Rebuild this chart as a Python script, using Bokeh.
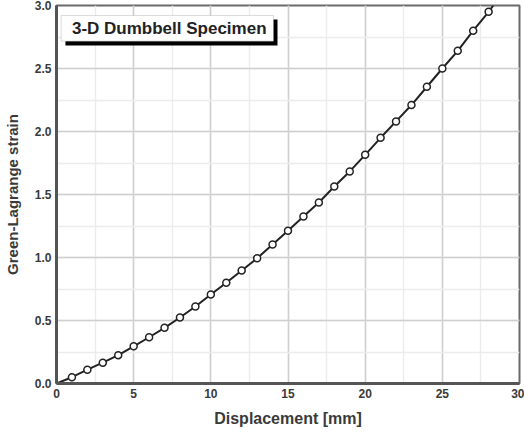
from bokeh.plotting import figure
from bokeh.models import (Range1d, SingleIntervalTicker, NumeralTickFormatter,
                          BoxAnnotation, Label)
from bokeh.embed import file_html
from bokeh.resources import INLINE

# ---- data ----
displacement = [1, 2, 3, 4, 5, 6, 7, 8, 9, 10, 11, 12, 13, 14, 15, 16, 17, 18, 19,
                20, 21, 22, 23, 24, 25, 26, 27, 28]
strain = [0.05, 0.11, 0.165, 0.225, 0.295, 0.367, 0.442, 0.524, 0.611, 0.706,
          0.80, 0.897, 0.994, 1.103, 1.212, 1.325, 1.437, 1.563, 1.683, 1.815,
          1.95, 2.08, 2.21, 2.355, 2.50, 2.64, 2.80, 2.95]
# curve continues from the origin to the top edge
curve_start = (0.0, 0.0)
curve_end = (28.3, 3.0)
legend_text = "3-D Dumbbell Specimen"
x_label = "Displacement [mm]"
y_label = "Green-Lagrange strain"

line_x = [curve_start[0]] + displacement + [curve_end[0]]
line_y = [curve_start[1]] + strain + [curve_end[1]]

FONT = "Liberation Sans"
TXT = "#3a3a3a"

p = figure(width=524, height=439, x_range=Range1d(0, 30), y_range=Range1d(0, 3),
           output_backend="svg", toolbar_location=None,
           min_border_left=56, min_border_right=5, min_border_top=5,
           min_border_bottom=56)
p.background_fill_color = "white"
p.border_fill_color = "white"
p.outline_line_color = "#6a6a6a"
p.outline_line_width = 2

p.xaxis.ticker = SingleIntervalTicker(interval=5, num_minor_ticks=2)
p.yaxis.ticker = SingleIntervalTicker(interval=0.5, num_minor_ticks=2)
p.yaxis.formatter = NumeralTickFormatter(format="0.0")

for ax in (p.xaxis, p.yaxis):
    ax.axis_line_color = "#555555"
    ax.axis_line_width = 3
    ax.major_tick_line_color = None
    ax.minor_tick_line_color = None
    ax.major_tick_out = 0
    ax.major_tick_in = 0
    ax.minor_tick_out = 0
    ax.minor_tick_in = 0
    ax.major_label_text_font = FONT
    ax.major_label_text_font_size = "12px"
    ax.major_label_text_font_style = "bold"
    ax.major_label_text_color = TXT
    ax.major_label_standoff = 5
    ax.axis_label_text_font = FONT
    ax.axis_label_text_font_style = "bold"
    ax.axis_label_text_color = TXT

p.xaxis.axis_label = x_label
p.yaxis.axis_label = y_label
p.xaxis.axis_label_text_font_size = "16px"
p.yaxis.axis_label_text_font_size = "15px"
p.xaxis.axis_label_standoff = 9
p.yaxis.axis_label_standoff = 11

for g in (p.xgrid, p.ygrid):
    g.grid_line_color = "#cfcfcf"
    g.grid_line_width = 1.5
    g.minor_grid_line_color = "#ececec"
    g.minor_grid_line_width = 1.5

p.line(line_x, line_y, line_color="#222222", line_width=2)
p.scatter(displacement, strain, size=7, fill_color="white",
          line_color="#222222", line_width=1.5)

# legend-like title box with shadow
shadow = BoxAnnotation(left=0.58, right=14.32, top=2.889, bottom=2.683,
                       fill_color="black", fill_alpha=1.0, line_color=None)
box = BoxAnnotation(left=0.30, right=14.06, top=2.921, bottom=2.717,
                    fill_color="white", fill_alpha=1.0, line_color="#888888",
                    line_width=1)
p.add_layout(shadow)
p.add_layout(box)
p.add_layout(Label(x=1.0, y=2.819, text=legend_text, text_font=FONT,
                   text_font_size="17px", text_font_style="bold",
                   text_color="#222222", text_baseline="middle"))

open("out.html", "w").write(file_html(p, INLINE))
